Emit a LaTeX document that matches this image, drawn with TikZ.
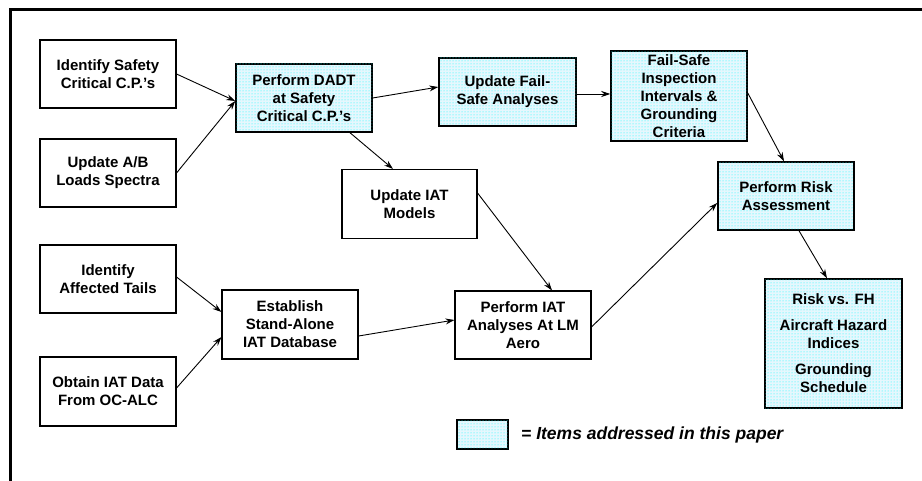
\documentclass[tikz,border=0pt]{standalone}
\usepackage{fontspec}
\setmainfont{Liberation Sans}
\usetikzlibrary{arrows.meta,patterns,calc}
\begin{document}
\begin{tikzpicture}[x=1pt,y=-1pt,
  every node/.style={font=\bfseries\fontsize{15}{18}\selectfont, align=center, inner sep=2pt},
  plainbox/.style={draw, line width=1.1pt, fill=white, minimum width=136pt, minimum height=68pt},
  paperbox/.style={plainbox, line width=1.5pt, fill=cyan!10, postaction={pattern=dots, pattern color=cyan}},
  flow/.style={line width=0.9pt, -{Stealth[length=9pt,width=6pt,inset=3pt]}}]
\useasboundingbox (0,0) rectangle (922,481);
% open frame: top and left edges only
\draw[line width=3pt] (10.5,481) -- (10.5,9.5) -- (922,9.5);

% input boxes
\node[plainbox] (s1) at (108,74) {Identify Safety\\Critical C.P.'s};
\node[plainbox] (s2) at (108,173) {Update A/B\\Loads Spectra};
\node[plainbox] (tails) at (108,279) {Identify\\Affected Tails};
\node[plainbox, minimum height=69pt] (obtain) at (108,391.5) {Obtain IAT Data\\From OC-ALC};

% intermediate steps
\node[paperbox] (dadt) at (304,98) {Perform DADT\\at Safety\\Critical C.P.'s};
\node[plainbox, minimum width=135pt, minimum height=69pt] (iatm) at (409.5,204) {Update IAT\\Models};
\node[plainbox, minimum height=69pt] (estab) at (290,324.5) {Establish\\Stand-Alone\\IAT Database};
\node[plainbox] (piat) at (523,325) {Perform IAT\\Analyses At LM\\Aero};
\node[paperbox, minimum width=137pt] (fsa) at (507.5,92) {Update Fail-\\Safe Analyses};
\node[paperbox, minimum height=90pt] (fsi) at (679,96) {Fail-Safe\\Inspection\\Intervals \&\\Grounding\\Criteria};
\node[paperbox] (risk) at (786,196) {Perform Risk\\Assessment};
\node[paperbox, minimum width=137pt, minimum height=129pt] (out) at (833.5,343.5)
  {Risk vs. FH\\[8pt]Aircraft Hazard\\Indices\\[8pt]Grounding\\Schedule};

% legend
\node[paperbox, minimum width=51pt, minimum height=29pt] (key) at (482.5,434.5) {};
\node[anchor=west, font=\bfseries\itshape\fontsize{17.5}{20}\selectfont] (keytext) at (519,435)
  {= Items addressed in this paper};

% connectors
\draw[flow] (s1.east) -- ($(dadt.west)+(0,3)$);
\draw[flow] (s2.east) -- ($(dadt.west)+(0,3)$);
\draw[flow] (dadt.east) -- ($(fsa.west)+(0,-5)$);
\draw[flow] ($(dadt.south)+(46,0)$) -- ($(iatm.north)+(-16.5,0)$);
\draw[flow] ($(fsa.east)+(0,2)$) -- ($(fsa.east -| fsi.west)+(0,2)$);
\draw[flow] ($(fsi.east)+(0,-3)$) -- ($(risk.north)+(-2,0)$);
\draw[flow] ($(piat.east)+(0,2)$) -- ($(risk.west)+(0,7)$);
\draw[flow] ($(risk.south)+(13,0)$) -- ($(out.north)+(-6.5,0)$);
\draw[flow] ($(iatm.east)+(0,-11)$) -- ($(piat.north)+(29,0)$);
\draw[flow] ($(tails.east)+(0,-2)$) -- ($(estab.west)+(0,-12.5)$);
\draw[flow] ($(obtain.east)+(0,-3.5)$) -- ($(estab.west)+(0,12.5)$);
\draw[flow] ($(estab.east)+(0,11.5)$) -- ($(piat.west)+(0,-5)$);
\end{tikzpicture}
\end{document}
